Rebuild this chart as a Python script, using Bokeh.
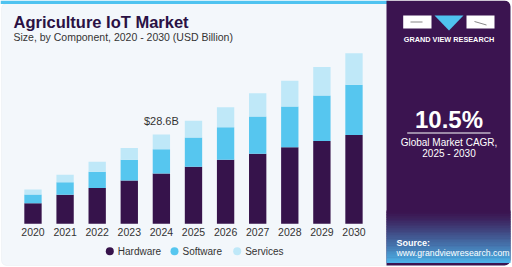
from bokeh.plotting import figure
from bokeh.models import Range1d, BoxAnnotation, ColumnDataSource
from bokeh.core.properties import value
from bokeh.embed import file_html
from bokeh.resources import INLINE

# ---- data (USD Billion) ----
years = [2020, 2021, 2022, 2023, 2024, 2025, 2026, 2027, 2028, 2029, 2030]
hardware = [6.6, 9.3, 11.5, 13.9, 16.1, 18.3, 20.5, 22.4, 24.5, 26.5, 28.4]
software = [2.8, 4.0, 5.2, 6.6, 7.8, 9.3, 10.4, 12.0, 13.1, 14.6, 16.1]
services = [1.6, 2.4, 3.2, 3.8, 4.7, 5.4, 6.4, 7.4, 8.2, 9.1, 10.1]
series = ["Hardware", "Software", "Services"]
colors = ["#36134b", "#56c6ef", "#bfe8f8"]
highlight_year = 2024
cagr_text = "10.5%"

FONT = value("Liberation Sans")
W, H = 512, 267

p = figure(width=W, height=H, x_range=Range1d(2018.988, 2034.938),
           y_range=Range1d(-14.0, 71.52), x_axis_type=None, y_axis_type=None,
           toolbar_location=None, output_backend="svg", min_border=0,
           outline_line_color=None, background_fill_color="white",
           border_fill_color="white")
p.grid.visible = False
p.extra_x_ranges = {"px": Range1d(0, W)}
p.extra_y_ranges = {"px": Range1d(H, 0)}
PX = dict(x_range_name="px", y_range_name="px")

# ---- panels ----
p.add_layout(BoxAnnotation(left=1, right=392, top=3, bottom=265, fill_color="#f3f7fb",
                           fill_alpha=1, line_color="#dde3ea", line_width=1, border_radius=5,
                           level="underlay", **PX))
p.add_layout(BoxAnnotation(left=0, right=388, top=0, bottom=3.5, fill_color="#4fc3f0",
                           fill_alpha=1, line_color=None, level="underlay", **PX))
p.add_layout(BoxAnnotation(left=386, right=510, top=0, bottom=265, fill_color="#3b1450",
                           fill_alpha=1, line_color=None,
                           border_radius=dict(top_left=0, top_right=6,
                                              bottom_right=6, bottom_left=0),
                           level="underlay", **PX))

# gradient at bottom of right panel
n = 30
g0, g1 = (0x3b, 0x14, 0x50), (0x4c, 0xb0, 0xe6)
tops, bots, gcols = [], [], []
y0, y1 = 210.0, 262.0
for i in range(n):
    t = i / (n - 1)
    c = tuple(int(a + (b - a) * t ** 1.2) for a, b in zip(g0, g1))
    tops.append(y0 + (y1 - y0) * i / n)
    bots.append(y0 + (y1 - y0) * (i + 1) / n + 0.5)
    gcols.append("#%02x%02x%02x" % c)
p.quad(left=[386] * n, right=[510] * n, top=tops, bottom=bots, fill_color=gcols,
       line_color=None, **PX)

# logo
p.quad(left=[402.7, 466], right=[431, 494], top=[15, 15], bottom=[28, 28],
       fill_color="white", line_color=None, **PX)
p.patch(x=[434, 463, 448.5], y=[15, 15, 30], fill_color="#4fc3f0", line_color=None, **PX)
p.segment(x0=[410, 474], y0=[21.5, 21], x1=[422, 486], y1=[21.5, 24.5], line_color="#555555",
          line_width=0.7, **PX)

# ---- bars ----
src = ColumnDataSource(dict(year=years, Hardware=hardware, Software=software, Services=services))
p.vbar_stack(series, x="year", width=0.54, source=src, fill_color=colors, line_color=None)

# year labels
p.text(x=years, y=[231.5] * len(years), text=[str(y) for y in years], y_range_name="px",
       text_font=FONT, text_font_size="10.5px", text_color="#333333",
       text_align="center", text_baseline="middle")

# highlight label
idx = years.index(highlight_year)
tot = hardware[idx] + software[idx] + services[idx]
p.text(x=[highlight_year], y=[tot], text=["$%.1fB" % tot], y_offset=-13,
       text_font=FONT, text_font_size="11px", text_color="#333333",
       text_align="center", text_baseline="middle")

# legend
lx = [109.3, 174, 236.7]
p.scatter(x=lx, y=[250.7] * 3, size=8, fill_color=colors, line_color=None, **PX)
p.text(x=[x + 8 for x in lx], y=[250.7] * 3, text=series, text_font=FONT,
       text_font_size="10px", text_color="#333333", text_baseline="middle", **PX)

# title
p.text(x=[13], y=[21.5], text=["Agriculture IoT Market"], text_font=FONT,
       text_font_size="16.5px", text_font_style="bold", text_color="#2a1144",
       text_baseline="middle", **PX)
p.text(x=[13], y=[36.3], text=["Size, by Component, 2020 - 2030 (USD Billion)"],
       text_font=FONT, text_font_size="10.5px", text_color="#333333",
       text_baseline="middle", **PX)

# right panel text
p.text(x=[448.5], y=[38.5], text=["GRAND VIEW RESEARCH"], text_font=FONT,
       text_font_size="7.3px", text_font_style="bold", text_color="white",
       text_align="center", text_baseline="middle", **PX)
p.text(x=[448.5], y=[119], text=[cagr_text], text_font=FONT, text_font_size="24px",
       text_font_style="bold", text_color="white", text_align="center",
       text_baseline="middle", **PX)
p.segment(x0=[406.7], y0=[132.5], x1=[490], y1=[132.5], line_color="white", line_width=1.2, **PX)
p.text(x=[448.5, 448.5], y=[142.3, 152.7], text=["Global Market CAGR,", "2025 - 2030"],
       text_font=FONT, text_font_size="10px", text_color="white", text_align="center",
       text_baseline="middle", **PX)
p.text(x=[396], y=[242], text=["Source:"], text_font=FONT, text_font_size="9px",
       text_font_style="bold", text_color="white", text_baseline="middle", **PX)
p.text(x=[396], y=[252.5], text=["www.grandviewresearch.com"], text_font=FONT,
       text_font_size="8.7px", text_color="white", text_baseline="middle", **PX)

open("out.html", "w").write(file_html(p, INLINE))
